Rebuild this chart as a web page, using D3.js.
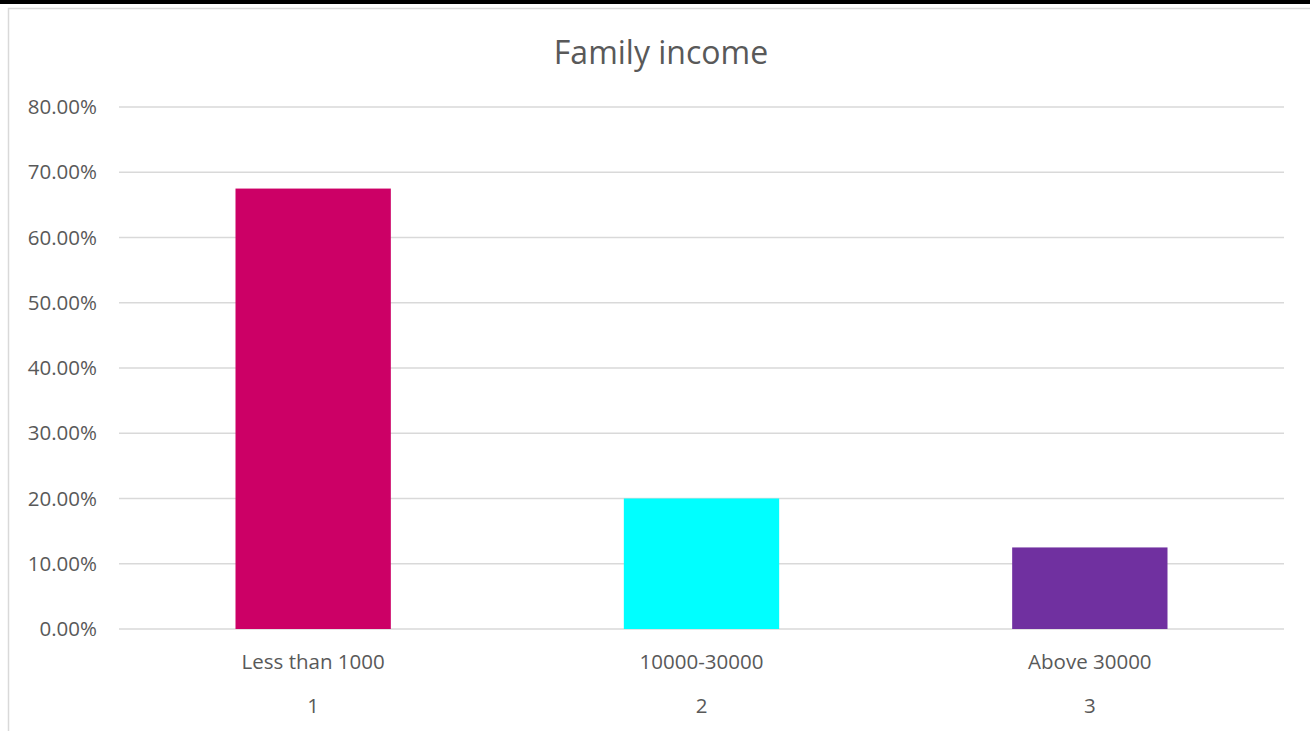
<!DOCTYPE html>
<html>
<head>
<meta charset="utf-8">
<script src="https://cdn.jsdelivr.net/npm/d3@7"></script>
<style>
  body { margin: 0; background: #fff; }
  svg { display: block; font-family: "Open Sans", sans-serif; }
</style>
</head>
<body>
<div id="chart"></div>
<script>
// chart data
const categories = ["Less than 1000", "10000-30000", "Above 30000"];
const indexLabels = ["1", "2", "3"];
const values = [0.675, 0.20, 0.125];
const barColors = ["#CC0066", "#00FFFF", "#7030A0"];
const yTicks = [0, 0.1, 0.2, 0.3, 0.4, 0.5, 0.6, 0.7, 0.8];

const width = 1310, height = 731;
const margin = { left: 119, right: 26, top: 107, bottom: 102 };

const svg = d3.select("#chart").append("svg")
    .attr("width", width)
    .attr("height", height);

// black strip at top and chart border
svg.append("rect").attr("x", 0).attr("y", 0).attr("width", width).attr("height", 4).attr("fill", "#000");
svg.append("rect")
    .attr("x", 8.5).attr("y", 8.5)
    .attr("width", width + 20).attr("height", height + 20)
    .attr("fill", "none").attr("stroke", "#d9d9d9").attr("stroke-width", 1.5);

const x = d3.scaleBand()
    .domain(categories)
    .range([margin.left, width - margin.right])
    .paddingInner(0.6)
    .paddingOuter(0.3);

const y = d3.scaleLinear()
    .domain([0, 0.8])
    .range([height - margin.bottom, margin.top]);

// gridlines
svg.append("g")
    .selectAll("line")
    .data(yTicks)
    .enter().append("line")
    .attr("x1", margin.left)
    .attr("x2", width - margin.right)
    .attr("y1", d => y(d))
    .attr("y2", d => y(d))
    .attr("stroke", "#d9d9d9")
    .attr("stroke-width", 1.3);

// y labels
svg.append("g")
    .selectAll("text")
    .data(yTicks)
    .enter().append("text")
    .attr("x", 97)
    .attr("y", d => y(d))
    .attr("dy", "0.35em")
    .attr("text-anchor", "end")
    .attr("fill", "#595959")
    .attr("font-size", 20.5)
    .text(d => d3.format(".2%")(d));

// bars
svg.append("g")
    .selectAll("rect")
    .data(values)
    .enter().append("rect")
    .attr("x", (d, i) => x(categories[i]))
    .attr("width", x.bandwidth())
    .attr("y", d => y(d))
    .attr("height", d => y(0) - y(d))
    .attr("fill", (d, i) => barColors[i]);

// category labels
svg.append("g")
    .selectAll("text")
    .data(categories)
    .enter().append("text")
    .attr("x", d => x(d) + x.bandwidth() / 2)
    .attr("y", 662)
    .attr("dy", "0.35em")
    .attr("text-anchor", "middle")
    .attr("fill", "#595959")
    .attr("font-size", 20.5)
    .text(d => d);

svg.append("g")
    .selectAll("text")
    .data(indexLabels)
    .enter().append("text")
    .attr("x", (d, i) => x(categories[i]) + x.bandwidth() / 2)
    .attr("y", 706)
    .attr("dy", "0.35em")
    .attr("text-anchor", "middle")
    .attr("fill", "#595959")
    .attr("font-size", 20.5)
    .text(d => d);

// title
svg.append("text")
    .attr("x", 661)
    .attr("y", 53)
    .attr("dy", "0.35em")
    .attr("text-anchor", "middle")
    .attr("fill", "#595959")
    .attr("font-size", 32)
    .text("Family income");
</script>
</body>
</html>
